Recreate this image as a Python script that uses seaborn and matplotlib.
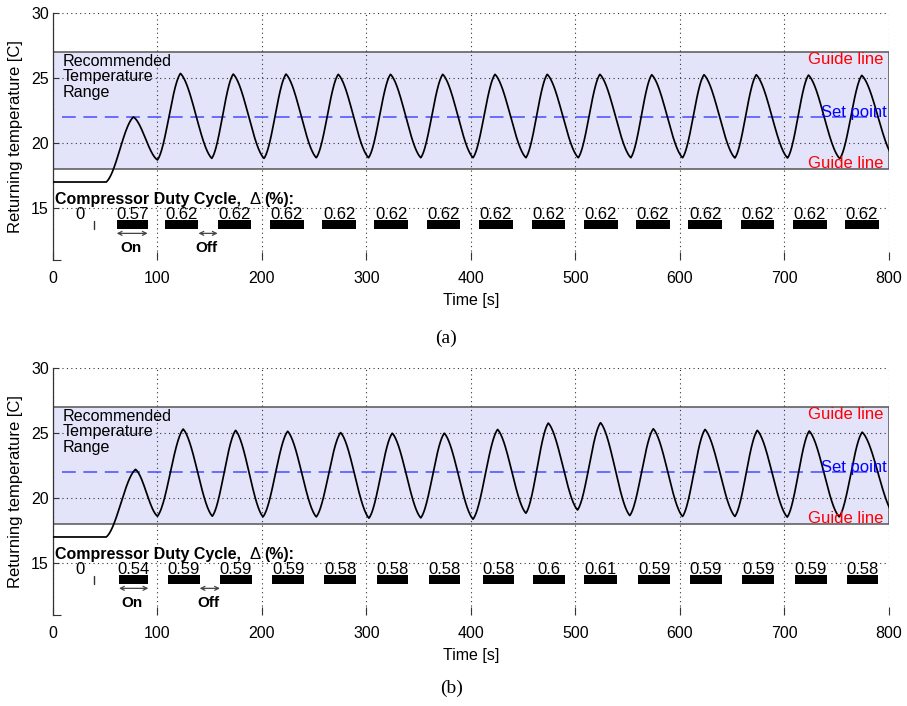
import numpy as np
import matplotlib
matplotlib.use("Agg")
import matplotlib.pyplot as plt
from matplotlib.patches import Rectangle
import seaborn as sns

# Turning points of the returning-air temperature trace: time [s], temperature [C]
time_keys_a = [0, 51, 77, 100, 122, 152, 172.5, 202, 223, 252, 273, 302, 323, 352,
               373, 402, 423, 452.6, 473, 502.7, 523.4, 553, 573, 602.5, 623, 652.6,
               673, 703, 723, 753, 774, 805]
temp_keys_a = [17.0, 17.0, 22.0, 18.7, 25.35, 18.82, 25.3, 18.82, 25.3, 18.87, 25.28,
               18.87, 25.28, 18.87, 25.28, 18.87, 25.28, 18.87, 25.28, 18.87, 25.28,
               18.87, 25.25, 18.87, 25.25, 18.85, 25.25, 18.85, 25.22, 18.8, 25.2, 18.85]

time_keys_b = [0, 51, 79, 100, 124.6, 152.5, 174.8, 201, 224.6, 252, 275.3, 302.4,
               324.7, 352, 374.5, 402, 425.5, 452.6, 474, 502, 524, 552, 574.5, 602.5,
               624, 652.6, 674, 702.7, 723.7, 752.4, 774.4, 805]
temp_keys_b = [17.0, 17.0, 22.2, 18.6, 25.3, 18.6, 25.2, 18.55, 25.13, 18.55, 25.03,
               18.45, 24.98, 18.47, 24.98, 18.37, 25.27, 18.83, 25.76, 19.08, 25.79,
               18.65, 25.32, 18.58, 25.27, 18.58, 25.2, 18.53, 25.15, 18.55, 25.06, 18.7]

# Compressor ON pulses: start time [s] and duty cycle of each cycle
on_start_a = [61, 107, 157.6, 207.7, 257.7, 307.5, 357.5, 407.7, 458, 508, 558, 608,
              658, 708, 758]
duty_a = [0.57, 0.62, 0.62, 0.62, 0.62, 0.62, 0.62, 0.62, 0.62, 0.62, 0.62, 0.62,
          0.62, 0.62, 0.62]

on_start_b = [63.2, 109.7, 159.8, 209.9, 259.7, 309.8, 359.5, 411.2, 459, 508.5, 560,
              609.6, 659.6, 709.7, 759.5]
duty_b = [0.54, 0.59, 0.59, 0.59, 0.58, 0.58, 0.58, 0.58, 0.6, 0.61, 0.59, 0.59,
          0.59, 0.59, 0.58]

# First (idle) cycle: duty 0
idle_duty = 0
idle_tick_t = 39.5
idle_label_t = 25.8

SET_POINT = 22.0
RANGE_LOW, RANGE_HIGH = 18.0, 27.0
CYCLE_S = 52.0          # nominal compressor cycle length used to size the ON bars
T_END = 800

sns.set_theme(style="white")
plt.rcParams["font.family"] = ["Liberation Sans", "DejaVu Sans"]
for key in ("text.color", "axes.labelcolor", "xtick.color", "ytick.color"):
    plt.rcParams[key] = "black"


def smooth_trace(tk, yk, step=0.5, lin=0.35):
    """Join successive turning points with eased segments (partly linear)."""
    ts, ys = [], []
    for t0, t1, y0, y1 in zip(tk[:-1], tk[1:], yk[:-1], yk[1:]):
        n = max(int((t1 - t0) / step), 2)
        s = np.linspace(0, 1, n, endpoint=False)
        w = (1 - np.cos(np.pi * s)) / 2
        if y0 != y1 and t0 > 0:
            w = lin * s + (1 - lin) * w
        ts.append(t0 + s * (t1 - t0))
        ys.append(y0 + (y1 - y0) * w)
    ts.append([tk[-1]])
    ys.append([yk[-1]])
    return np.concatenate(ts), np.concatenate(ys)


def draw_panel(ax, tk, yk, starts, duties):
    ax.set_axisbelow("line")
    ax.add_patch(Rectangle((0, RANGE_LOW), T_END, RANGE_HIGH - RANGE_LOW,
                           facecolor="#E3E3FA", edgecolor="#555555", lw=1.1, zorder=1))
    ax.plot([9, 790], [SET_POINT, SET_POINT], color="#4B4BFF", lw=1.1,
            dashes=(9, 5), zorder=2)

    t, y = smooth_trace(tk, yk)
    sns.lineplot(x=t, y=y, ax=ax, color="black", lw=1.25, estimator=None,
                 sort=False, zorder=3)

    starts = np.asarray(starts)
    widths = np.asarray(duties) * CYCLE_S
    ax.barh(13.72, widths, left=starts, height=0.72, color="black", lw=0, zorder=3)
    ax.plot([idle_tick_t, idle_tick_t], [13.4, 14.0], color="#333333", lw=1.0, zorder=3)

    for s, w, d in zip(starts, widths, duties):
        ax.text(s + w / 2, 14.13, f"{d:g}", ha="center", va="baseline", size=12, zorder=4)
    ax.text(idle_label_t, 14.13, f"{idle_duty:g}", ha="center", va="baseline", size=12)

    ax.text(2, 15.3, "Compressor Duty Cycle,", ha="left", va="baseline",
            size=11.5, fontweight="bold")
    ax.text(188, 15.3, "\u0394", ha="left", va="baseline", size=12)
    ax.text(202.5, 15.3, "(%):", ha="left", va="baseline", size=11.5, fontweight="bold")

    on0, on1 = starts[0], starts[0] + widths[0]
    off0, off1 = starts[1] + widths[1], starts[2]
    arrow = dict(arrowstyle="<->", color="#444444", lw=0.9, shrinkA=0, shrinkB=0,
                 mutation_scale=7)
    ax.annotate("", xy=(on0, 13.05), xytext=(on1, 13.05), arrowprops=arrow)
    ax.annotate("", xy=(off0, 13.05), xytext=(off1, 13.05), arrowprops=arrow)
    ax.text((on0 + on1) / 2 - 1.5, 11.95, "On", ha="center", va="center",
            size=11, fontweight="bold")
    ax.text((off0 + off1) / 2 - 1.5, 11.95, "Off", ha="center", va="center",
            size=11, fontweight="bold")

    ax.text(9.5, 26.85, "Recommended\nTemperature\nRange", ha="left", va="top",
            size=11.6, linespacing=1.04, zorder=4)
    ax.text(795, 26.05, "Guide line", ha="right", va="baseline", color="red", size=12)
    ax.text(795, 18.1, "Guide line", ha="right", va="baseline", color="red", size=12)
    ax.text(798, SET_POINT, "Set point", ha="right", va="baseline", color="blue", size=12)

    ax.set_xlim(0, T_END)
    ax.set_ylim(11, 30)
    ax.set_xticks(np.arange(0, 801, 100))
    ax.set_yticks([15, 20, 25, 30])
    ax.set_yticks([11], minor=True)
    ax.grid(True, which="major", linestyle=(0, (1, 3)), color="#333333", lw=0.8)
    for side in ("top", "right", "bottom"):
        ax.spines[side].set_visible(False)
    ax.spines["left"].set_color("#333333")
    ax.spines["left"].set_linewidth(0.9)
    ax.tick_params(axis="x", direction="in", length=6, width=0.8, color="#333333",
                   labelsize=11.5, pad=8, bottom=True)
    ax.tick_params(axis="y", which="both", direction="in", length=4, width=0.8,
                   color="#333333", labelsize=11.5, pad=3, left=True)
    ax.tick_params(axis="y", which="minor", length=6)
    ax.set_xlabel("Time [s]", size=11.5, labelpad=5)
    ax.set_ylabel("Returning temperature [C]", size=12, labelpad=6)


fig = plt.figure(figsize=(9.07, 7.06), dpi=100)
ax_a = fig.add_axes([0.0584, 0.6317, 0.9217, 0.3499])
ax_b = fig.add_axes([0.0584, 0.1289, 0.9217, 0.3499])

draw_panel(ax_a, time_keys_a, temp_keys_a, on_start_a, duty_a)
draw_panel(ax_b, time_keys_b, temp_keys_b, on_start_b, duty_b)

fig.text(446 / 907, 1 - 338 / 706, "(a)", ha="center", va="center", size=14,
         family="Liberation Serif")
fig.text(452 / 907, 1 - 688 / 706, "(b)", ha="center", va="center", size=14,
         family="Liberation Serif")

fig.savefig("out.png", dpi=100, facecolor="white")
